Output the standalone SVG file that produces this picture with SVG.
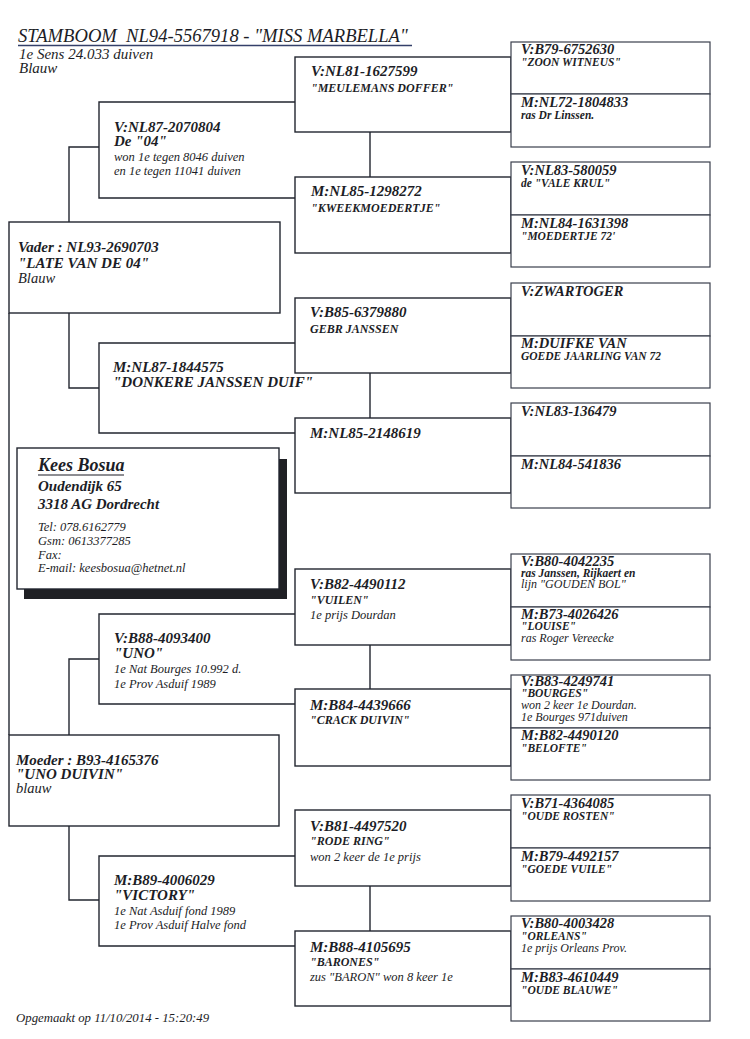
<svg xmlns="http://www.w3.org/2000/svg" width="750" height="1039" viewBox="0 0 750 1039">
<style>
.ln{fill:none;stroke:#22262f;stroke-width:1.4}
.bx{fill:#fff;stroke:#22262f;stroke-width:1.4}
.b4{fill:#fff;stroke:#3a3f4c;stroke-width:1.2}
text{font-family:"Liberation Serif","DejaVu Serif",serif;fill:#1c1d26;font-style:italic}
.rn{font-size:15px;font-weight:bold}
.r4{font-size:14.5px;font-weight:bold}
.nm{font-size:12px;font-weight:bold}
.n4{font-size:11.5px;font-weight:bold}
.nb{font-size:15px;font-weight:bold}
.cm{font-size:12.5px}
.c4{font-size:12px}
.hd{font-size:18.6px}
.sub{font-size:15px}
.g1c{font-size:14.5px}
.adn{font-size:18px;font-weight:bold}
.adr{font-size:15px;font-weight:bold}
.adc{font-size:12.5px}
.ft{font-size:12.8px}
</style>
<rect width="750" height="1039" fill="#fff"/>

<g id="header">
<text x="18" y="42" class="hd" xml:space="preserve">STAMBOOM  NL94-5567918 - "MISS MARBELLA"</text>
<line x1="18" y1="45.5" x2="412" y2="45.5" stroke="#34406a" stroke-width="1.4"/>
<text x="19" y="59" class="sub">1e Sens 24.033 duiven</text>
<text x="19" y="73" class="sub">Blauw</text>
</g>

<g id="connectors">
<path class="ln" d="M9 313V735"/>
<path class="ln" d="M69 222V147H99M69 313V388H99M69 735V659H99M69 826V900H99"/>
<path class="ln" d="M370 132V177M370 373V418M370 645V689M370 886V931"/>
</g>

<g id="gen2-frames">
<path class="ln" d="M295 102H99V198H295"/>
<path class="ln" d="M295 343H99V433H295"/>
<path class="ln" d="M295 614H99V704H295"/>
<path class="ln" d="M295 856H99V946H295"/>
</g>

<g id="vader">
<rect class="bx" x="9" y="222" width="271" height="91"/>
<text x="18" y="252" class="rn">Vader : NL93-2690703</text>
<text x="18" y="268" class="nb">"LATE VAN DE 04"</text>
<text x="18" y="283" class="g1c">Blauw</text>
</g>

<g id="moeder">
<rect class="bx" x="9" y="735" width="270" height="91"/>
<text x="16" y="765" class="rn">Moeder : B93-4165376</text>
<text x="16" y="779" class="nb">"UNO DUIVIN"</text>
<text x="16" y="793" class="g1c">blauw</text>
</g>

<g id="g2-v-nl87-2070804">
<text x="114" y="132" class="rn">V:NL87-2070804</text>
<text x="114" y="146" class="nb">De "04"</text>
<text x="114" y="161" class="cm">won 1e tegen 8046 duiven</text>
<text x="114" y="175" class="cm">en 1e tegen 11041 duiven</text>
</g>
<g id="g2-m-nl87-1844575">
<text x="113" y="372" class="rn">M:NL87-1844575</text>
<text x="113" y="387" class="nb">"DONKERE JANSSEN DUIF"</text>
</g>
<g id="g2-v-b88-4093400">
<text x="114" y="643" class="rn">V:B88-4093400</text>
<text x="114" y="658" class="nb">"UNO"</text>
<text x="114" y="673" class="cm">1e Nat Bourges 10.992 d.</text>
<text x="114" y="688" class="cm">1e Prov Asduif 1989</text>
</g>
<g id="g2-m-b89-4006029">
<text x="114" y="885" class="rn">M:B89-4006029</text>
<text x="114" y="900" class="nb">"VICTORY"</text>
<text x="114" y="915" class="cm">1e Nat Asduif fond 1989</text>
<text x="114" y="929" class="cm">1e Prov Asduif Halve fond</text>
</g>

<g id="g3-v-nl81-1627599">
<rect class="bx" x="295" y="57" width="216" height="75"/>
<text x="311" y="76" class="rn">V:NL81-1627599</text>
<text x="311" y="92" class="nm">"MEULEMANS DOFFER"</text>
</g>
<g id="g3-m-nl85-1298272">
<rect class="bx" x="295" y="177" width="216" height="76"/>
<text x="311" y="196" class="rn">M:NL85-1298272</text>
<text x="311" y="212" class="nm">"KWEEKMOEDERTJE"</text>
</g>
<g id="g3-v-b85-6379880">
<rect class="bx" x="295" y="298" width="216" height="75"/>
<text x="310" y="317" class="rn">V:B85-6379880</text>
<text x="310" y="333" class="nm">GEBR JANSSEN</text>
</g>
<g id="g3-m-nl85-2148619">
<rect class="bx" x="295" y="418" width="216" height="75"/>
<text x="310" y="438" class="rn">M:NL85-2148619</text>
</g>
<g id="g3-v-b82-4490112">
<rect class="bx" x="295" y="569" width="216" height="76"/>
<text x="310" y="589" class="rn">V:B82-4490112</text>
<text x="310" y="604" class="nm">"VUILEN"</text>
<text x="310" y="619" class="cm">1e prijs Dourdan</text>
</g>
<g id="g3-m-b84-4439666">
<rect class="bx" x="295" y="689" width="216" height="77"/>
<text x="310" y="710" class="rn">M:B84-4439666</text>
<text x="310" y="724" class="nm">"CRACK DUIVIN"</text>
</g>
<g id="g3-v-b81-4497520">
<rect class="bx" x="295" y="810" width="216" height="76"/>
<text x="310" y="831" class="rn">V:B81-4497520</text>
<text x="310" y="845" class="nm">"RODE RING"</text>
<text x="310" y="861" class="cm">won 2 keer de 1e prijs</text>
</g>
<g id="g3-m-b88-4105695">
<rect class="bx" x="295" y="931" width="216" height="75"/>
<text x="310" y="952" class="rn">M:B88-4105695</text>
<text x="310" y="966" class="nm">"BARONES"</text>
<text x="310" y="981" class="cm">zus "BARON" won 8 keer 1e</text>
</g>

<g id="g4-v-b79-6752630">
<rect class="b4" x="511" y="42" width="199" height="52"/>
<text x="521" y="54" class="r4">V:B79-6752630</text>
<text x="521" y="66" class="n4">"ZOON WITNEUS"</text>
</g>
<g id="g4-m-nl72-1804833">
<rect class="b4" x="511" y="94" width="199" height="53"/>
<text x="521" y="107" class="r4">M:NL72-1804833</text>
<text x="521" y="119" class="n4">ras Dr Linssen.</text>
</g>
<g id="g4-v-nl83-580059">
<rect class="b4" x="511" y="162" width="199" height="53"/>
<text x="521" y="175" class="r4">V:NL83-580059</text>
<text x="521" y="187" class="n4">de "VALE KRUL"</text>
</g>
<g id="g4-m-nl84-1631398">
<rect class="b4" x="511" y="215" width="199" height="52"/>
<text x="521" y="228" class="r4">M:NL84-1631398</text>
<text x="521" y="240" class="n4">"MOEDERTJE 72'</text>
</g>
<g id="g4-v-zwartoger">
<rect class="b4" x="511" y="283" width="199" height="53"/>
<text x="521" y="296" class="r4">V:ZWARTOGER</text>
</g>
<g id="g4-m-duifke-van">
<rect class="b4" x="511" y="336" width="199" height="52"/>
<text x="521" y="348" class="r4">M:DUIFKE VAN</text>
<text x="521" y="360" class="n4">GOEDE JAARLING VAN 72</text>
</g>
<g id="g4-v-nl83-136479">
<rect class="b4" x="511" y="403" width="199" height="53"/>
<text x="521" y="416" class="r4">V:NL83-136479</text>
</g>
<g id="g4-m-nl84-541836">
<rect class="b4" x="511" y="456" width="199" height="52"/>
<text x="521" y="469" class="r4">M:NL84-541836</text>
</g>
<g id="g4-v-b80-4042235">
<rect class="b4" x="511" y="554" width="199" height="53"/>
<text x="521" y="566" class="r4">V:B80-4042235</text>
<text x="521" y="577" class="n4">ras Janssen, Rijkaert en</text>
<text x="521" y="588" class="c4">lijn "GOUDEN BOL"</text>
</g>
<g id="g4-m-b73-4026426">
<rect class="b4" x="511" y="607" width="199" height="53"/>
<text x="521" y="619" class="r4">M:B73-4026426</text>
<text x="521" y="630" class="n4">"LOUISE"</text>
<text x="521" y="642" class="c4">ras Roger Vereecke</text>
</g>
<g id="g4-v-b83-4249741">
<rect class="b4" x="511" y="675" width="199" height="53"/>
<text x="521" y="686" class="r4">V:B83-4249741</text>
<text x="521" y="697" class="n4">"BOURGES"</text>
<text x="521" y="709" class="c4">won 2 keer 1e Dourdan.</text>
<text x="521" y="721" class="c4">1e Bourges 971duiven</text>
</g>
<g id="g4-m-b82-4490120">
<rect class="b4" x="511" y="728" width="199" height="52"/>
<text x="521" y="740" class="r4">M:B82-4490120</text>
<text x="521" y="752" class="n4">"BELOFTE"</text>
</g>
<g id="g4-v-b71-4364085">
<rect class="b4" x="511" y="795" width="199" height="53"/>
<text x="521" y="808" class="r4">V:B71-4364085</text>
<text x="521" y="820" class="n4">"OUDE ROSTEN"</text>
</g>
<g id="g4-m-b79-4492157">
<rect class="b4" x="511" y="848" width="199" height="53"/>
<text x="521" y="861" class="r4">M:B79-4492157</text>
<text x="521" y="873" class="n4">"GOEDE VUILE"</text>
</g>
<g id="g4-v-b80-4003428">
<rect class="b4" x="511" y="916" width="199" height="53"/>
<text x="521" y="928" class="r4">V:B80-4003428</text>
<text x="521" y="940" class="n4">"ORLEANS"</text>
<text x="521" y="952" class="c4">1e prijs Orleans Prov.</text>
</g>
<g id="g4-m-b83-4610449">
<rect class="b4" x="511" y="969" width="199" height="52"/>
<text x="521" y="982" class="r4">M:B83-4610449</text>
<text x="521" y="994" class="n4">"OUDE BLAUWE"</text>
</g>

<g id="address">
<rect x="24" y="459" width="263" height="140" fill="#1f2024"/>
<rect class="bx" x="17" y="448" width="262" height="141"/>
<text x="38" y="471" class="adn">Kees Bosua</text>
<line x1="38" y1="475" x2="124" y2="475" stroke="#1c1d26" stroke-width="1.2"/>
<text x="38" y="491" class="adr">Oudendijk 65</text>
<text x="38" y="509" class="adr">3318 AG Dordrecht</text>
<text x="38" y="531" class="adc">Tel: 078.6162779</text>
<text x="38" y="545" class="adc">Gsm: 0613377285</text>
<text x="38" y="559" class="adc">Fax:</text>
<text x="38" y="572" class="adc">E-mail: keesbosua@hetnet.nl</text>
</g>

<g id="footer">
<text x="16" y="1022" class="ft">Opgemaakt op 11/10/2014 - 15:20:49</text>
</g>
</svg>
